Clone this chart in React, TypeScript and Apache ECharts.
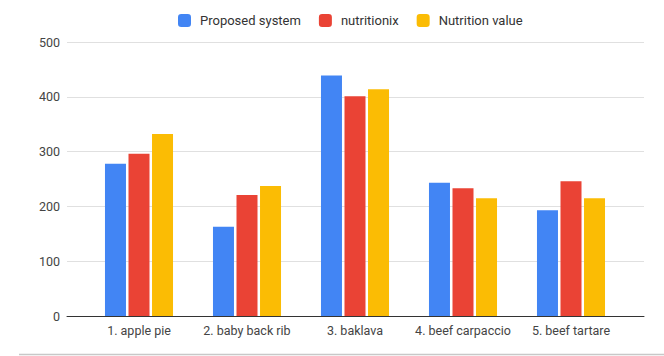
import React, { useEffect, useRef } from "react";
import * as echarts from "echarts";

const categories = [
  "1. apple pie",
  "2. baby back rib",
  "3. baklava",
  "4. beef carpaccio",
  "5. beef tartare",
];
const proposedSystem = [278, 163, 439, 243, 193];
const nutritionix = [296, 221, 401, 233, 246];
const nutritionValue = [332, 237, 414, 215, 215];
const yTicks = [0, 100, 200, 300, 400, 500];

const FONT = "Roboto, Arial, sans-serif";

export default function App() {
  const ref = useRef<HTMLDivElement>(null);

  useEffect(() => {
    if (!ref.current) return;
    const chart = echarts.init(ref.current, undefined, { renderer: "svg" });
    const yMax = yTicks[yTicks.length - 1];
    const yStep = yTicks[1] - yTicks[0];

    chart.setOption({
      animation: false,
      backgroundColor: "#ffffff",
      textStyle: { fontFamily: FONT },
      legend: {
        top: 9,
        left: 173,
        itemWidth: 13,
        itemHeight: 13,
        itemGap: 18,
        icon: "roundRect",
        textStyle: {
          fontFamily: FONT,
          fontSize: 13,
          color: "#333333",
          padding: [0, 0, 0, 4],
        },
        data: ["Proposed system", "nutritionix", "Nutrition value"],
      },
      grid: [
        { left: 67, right: 20, top: 42, bottom: 40 },
        { left: 85, right: 39, top: 42, bottom: 40 },
      ],
      xAxis: [
        {
          type: "value",
          gridIndex: 0,
          min: 0,
          max: 1,
          axisLine: { show: true, lineStyle: { color: "#333333", width: 1 } },
          axisTick: { show: false },
          axisLabel: { show: false },
          splitLine: { show: false },
        },
        {
          type: "category",
          gridIndex: 1,
          data: categories,
          axisLine: { show: false },
          axisTick: { show: false },
          axisLabel: {
            interval: 0,
            fontFamily: FONT,
            fontSize: 12.5,
            color: "#444444",
            margin: 8,
          },
        },
      ],
      yAxis: [
        {
          type: "value",
          gridIndex: 0,
          min: 0,
          max: yMax,
          interval: yStep,
          axisLine: { show: false },
          axisTick: { show: false },
          axisLabel: {
            fontFamily: FONT,
            fontSize: 12.5,
            color: "#444444",
            margin: 7,
          },
          splitLine: { lineStyle: { color: "#e0e0e0", width: 1 } },
        },
        {
          type: "value",
          gridIndex: 1,
          min: 0,
          max: yMax,
          interval: yStep,
          show: false,
          splitLine: { show: false },
        },
      ],
      series: [
        {
          name: "Proposed system",
          type: "bar",
          xAxisIndex: 1,
          yAxisIndex: 1,
          data: proposedSystem,
          barWidth: 21,
          barGap: "12%",
          itemStyle: { color: "#4285F4" },
        },
        {
          name: "nutritionix",
          type: "bar",
          xAxisIndex: 1,
          yAxisIndex: 1,
          data: nutritionix,
          barWidth: 21,
          barGap: "12%",
          itemStyle: { color: "#EA4335" },
        },
        {
          name: "Nutrition value",
          type: "bar",
          xAxisIndex: 1,
          yAxisIndex: 1,
          data: nutritionValue,
          barWidth: 21,
          barGap: "12%",
          itemStyle: { color: "#FBBC04" },
        },
      ],
      graphic: [
        {
          type: "line",
          shape: { x1: 19, y1: 354.5, x2: 664, y2: 354.5 },
          style: { stroke: "#c8c8c8", lineWidth: 1.5 },
          silent: true,
        },
      ],
    });

    return () => chart.dispose();
  }, []);

  return (
    <div
      ref={ref}
      style={{ position: "fixed", left: 0, top: 0, width: 664, height: 356 }}
    />
  );
}
